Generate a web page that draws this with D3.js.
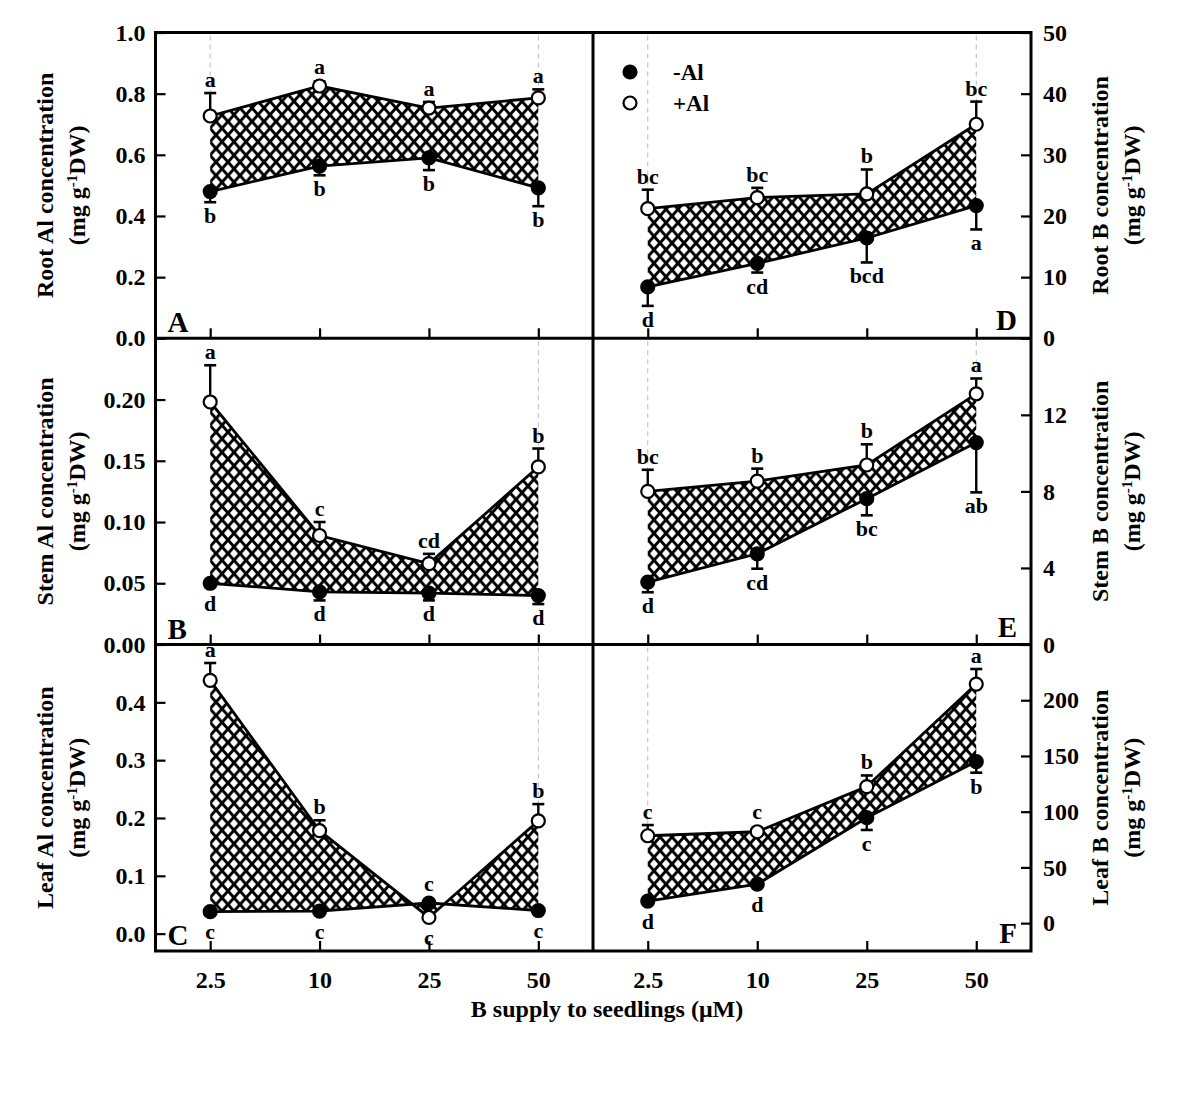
<!DOCTYPE html>
<html><head><meta charset="utf-8">
<script src="https://cdn.jsdelivr.net/npm/d3@7"></script>
<style>
body{margin:0;background:#fff}
text{font-family:"Liberation Serif","Times New Roman",serif;font-weight:bold;fill:#000}
</style>
</head><body>
<svg id="chart" width="1200" height="1100"></svg>
<script>
// ---------- data ----------
const doses = ["2.5", "10", "25", "50"];

const rootAlMinus = [0.480, 0.563, 0.590, 0.492];
const rootAlMinusErr = [0.035, 0.030, 0.040, 0.060];
const rootAlPlus = [0.727, 0.825, 0.753, 0.786];
const rootAlPlusErr = [0.075, 0.015, 0.020, 0.028];
const rootAlMinusLetters = ["b", "b", "b", "b"];
const rootAlPlusLetters = ["a", "a", "a", "a"];

const stemAlMinus = [0.050, 0.043, 0.042, 0.040];
const stemAlMinusErr = [0.003, 0.007, 0.006, 0.007];
const stemAlPlus = [0.198, 0.089, 0.066, 0.145];
const stemAlPlusErr = [0.030, 0.011, 0.008, 0.015];
const stemAlMinusLetters = ["d", "d", "d", "d"];
const stemAlPlusLetters = ["a", "c", "cd", "b"];

const leafAlMinus = [0.038, 0.039, 0.053, 0.040];
const leafAlMinusErr = [0.004, 0.004, 0, 0.004];
const leafAlPlus = [0.438, 0.178, 0.028, 0.195];
const leafAlPlusErr = [0.030, 0.018, 0, 0.029];
const leafAlMinusLetters = ["c", "c", "c", "c"];
const leafAlPlusLetters = ["a", "b", "c", "b"];

const rootBMinus = [8.4, 12.25, 16.4, 21.7];
const rootBMinusErr = [3.1, 1.5, 4.0, 3.9];
const rootBPlus = [21.2, 23.0, 23.6, 35.0];
const rootBPlusErr = [3.1, 1.6, 4.0, 3.7];
const rootBMinusLetters = ["d", "cd", "bcd", "a"];
const rootBPlusLetters = ["bc", "bc", "b", "bc"];

const stemBMinus = [3.26, 4.74, 7.62, 10.55];
const stemBMinusErr = [0.53, 0.78, 0.87, 2.6];
const stemBPlus = [8.0, 8.54, 9.38, 13.1];
const stemBPlusErr = [1.13, 0.65, 1.08, 0.8];
const stemBMinusLetters = ["d", "cd", "bc", "ab"];
const stemBPlusLetters = ["bc", "b", "b", "a"];

const leafBMinus = [19.8, 35.0, 94.6, 145];
const leafBMinusErr = [2, 2, 11, 10];
const leafBPlus = [78.4, 82.0, 122.5, 214.5];
const leafBPlusErr = [9.6, 2, 10, 13.5];
const leafBMinusLetters = ["d", "d", "c", "b"];
const leafBPlusLetters = ["c", "c", "b", "a"];

const rootAlTicks = [0, 0.2, 0.4, 0.6, 0.8, 1.0];
const stemAlTicks = [0, 0.05, 0.10, 0.15, 0.20];
const leafAlTicks = [0, 0.1, 0.2, 0.3, 0.4];
const rootBTicks = [0, 10, 20, 30, 40, 50];
const stemBTicks = [0, 4, 8, 12];
const leafBTicks = [0, 50, 100, 150, 200];

const seriesNames = ["-Al", "+Al"];
const xTitle = "B supply to seedlings (\u03BCM)";

// ---------- layout ----------
const svg = d3.select("#chart");
const L = 155.5, M = 593, R = 1031;
const rows = [[32.5, 338.3], [338.3, 644.5], [644.5, 951]];
const cols = [[L, M], [M, R]];

const panels = [
  {id:"A", col:0, row:0, minus:rootAlMinus, mErr:rootAlMinusErr, plus:rootAlPlus, pErr:rootAlPlusErr, mLet:rootAlMinusLetters, pLet:rootAlPlusLetters, domain:[0,1], ticks:rootAlTicks, fmt:".1f", title:"Root Al concentration", drops:[0,3]},
  {id:"B", col:0, row:1, minus:stemAlMinus, mErr:stemAlMinusErr, plus:stemAlPlus, pErr:stemAlPlusErr, mLet:stemAlMinusLetters, pLet:stemAlPlusLetters, domain:[0,0.25], ticks:stemAlTicks, fmt:".2f", title:"Stem Al concentration", drops:[3]},
  {id:"C", col:0, row:2, minus:leafAlMinus, mErr:leafAlMinusErr, plus:leafAlPlus, pErr:leafAlPlusErr, mLet:leafAlMinusLetters, pLet:leafAlPlusLetters, domain:[-0.03,0.5], ticks:leafAlTicks, fmt:".1f", title:"Leaf Al concentration", drops:[3]},
  {id:"D", col:1, row:0, minus:rootBMinus, mErr:rootBMinusErr, plus:rootBPlus, pErr:rootBPlusErr, mLet:rootBMinusLetters, pLet:rootBPlusLetters, domain:[0,50], ticks:rootBTicks, fmt:"d", title:"Root B concentration", drops:[0,3]},
  {id:"E", col:1, row:1, minus:stemBMinus, mErr:stemBMinusErr, plus:stemBPlus, pErr:stemBPlusErr, mLet:stemBMinusLetters, pLet:stemBPlusLetters, domain:[0,16], ticks:stemBTicks, fmt:"d", title:"Stem B concentration", drops:[0,3]},
  {id:"F", col:1, row:2, minus:leafBMinus, mErr:leafBMinusErr, plus:leafBPlus, pErr:leafBPlusErr, mLet:leafBMinusLetters, pLet:leafBPlusLetters, domain:[-25,250], ticks:leafBTicks, fmt:"d", title:"Leaf B concentration", drops:[0]}
];

// hatch pattern
const defs = svg.append("defs");
const pat = defs.append("pattern").attr("id","hatch").attr("patternUnits","userSpaceOnUse")
  .attr("width",12).attr("height",13.5);
pat.append("rect").attr("width",12).attr("height",13.5).attr("fill","#fff");
pat.append("path").attr("d","M-3,-3.375L15,16.875M15,-3.375L-3,16.875")
  .attr("stroke","#000").attr("stroke-width",3).attr("fill","none");

const r = 6.5, cap = 6;

panels.forEach(p => {
  const [x0, x1] = cols[p.col];
  const [y0, y1] = rows[p.row];
  const x = d3.scalePoint().domain(doses).range([x0, x1]).padding(0.5);
  const y = d3.scaleLinear().domain(p.domain).range([y1, y0]);
  const g = svg.append("g");

  // axes
  const yAxis = (p.col === 0 ? d3.axisLeft(y) : d3.axisRight(y))
    .tickValues(p.ticks).tickFormat(d3.format(p.fmt)).tickSizeInner(-10).tickSizeOuter(0).tickPadding(p.col===0?10:12);
  const ya = g.append("g").attr("transform", `translate(${p.col===0?x0:x1},0)`).call(yAxis);
  ya.select(".domain").remove();
  ya.selectAll("line").attr("stroke","#000").attr("stroke-width",2.2);
  ya.selectAll("text").attr("font-size",24).attr("font-family",null);

  const xAxis = d3.axisBottom(x).tickSizeInner(-10).tickSizeOuter(0).tickPadding(20)
    .tickFormat(p.row === 2 ? (d => d) : () => "");
  const xa = g.append("g").attr("transform", `translate(0,${y1})`).call(xAxis);
  xa.select(".domain").remove();
  xa.selectAll("line").attr("stroke","#000").attr("stroke-width",2.2);
  xa.selectAll("text").attr("font-size",24).attr("font-family",null);

  // faint dashed drop lines
  p.drops.forEach(i => {
    const top = Math.min(y(p.plus[i]), y(p.minus[i]));
    g.append("line").attr("x1", x(doses[i])).attr("x2", x(doses[i]))
      .attr("y1", y0 + 3).attr("y2", top)
      .attr("stroke","#bbb").attr("stroke-width",1).attr("stroke-dasharray","5,4");
  });

  // hatched area
  const idx = d3.range(doses.length);
  const area = d3.area().x(i => x(doses[i])).y0(i => y(p.minus[i])).y1(i => y(p.plus[i]));
  g.append("path").datum(idx).attr("d", area).attr("fill","url(#hatch)");
  const line = arr => d3.line().x(i => x(doses[i])).y(i => y(arr[i]));
  [p.minus, p.plus].forEach(arr => {
    g.append("path").datum(idx).attr("d", line(arr)).attr("fill","none")
      .attr("stroke","#000").attr("stroke-width",2.8);
  });

  // error bars, points, letters
  idx.forEach(i => {
    const cx = x(doses[i]);
    const plusUp = p.plus[i] >= p.minus[i];
    const series = [
      {v:p.plus[i], e:p.pErr[i], up:plusUp, fill:"#fff", lab:p.pLet[i]},
      {v:p.minus[i], e:p.mErr[i], up:!plusUp, fill:"#000", lab:p.mLet[i]}
    ];
    series.forEach(s => {
      const cy = y(s.v);
      const ey = y(s.up ? s.v + s.e : s.v - s.e);
      if (s.e > 0) {
        g.append("line").attr("x1",cx).attr("x2",cx).attr("y1",cy).attr("y2",ey)
          .attr("stroke","#000").attr("stroke-width",2.4);
        g.append("line").attr("x1",cx-cap).attr("x2",cx+cap).attr("y1",ey).attr("y2",ey)
          .attr("stroke","#000").attr("stroke-width",2.6);
      }
    });
    series.forEach(s => {
      g.append("circle").attr("cx",cx).attr("cy",y(s.v)).attr("r",r)
        .attr("fill",s.fill).attr("stroke","#000").attr("stroke-width",2.2);
    });
    series.forEach(s => {
      const cy = y(s.v);
      const ey = y(s.up ? s.v + s.e : s.v - s.e);
      const by = s.up ? Math.min(ey, cy - r) - 6 : Math.max(ey, cy + r) + 21;
      g.append("text").attr("x",cx).attr("y",by).attr("text-anchor","middle")
        .attr("font-size",22).text(s.lab);
    });
  });

  // panel letter
  if (p.col === 0) {
    g.append("text").attr("x", x0 + 12).attr("y", y1 - 6).attr("font-size",29).text(p.id);
  } else {
    g.append("text").attr("x", x1 - 14).attr("y", y1 - 8).attr("text-anchor","end").attr("font-size",29).text(p.id);
  }

  // y title
  const cyT = (y0 + y1) / 2;
  const tx1 = p.col === 0 ? 53 : 1108;
  const tx2 = p.col === 0 ? 85 : 1140;
  g.append("text").attr("transform",`translate(${tx1},${cyT}) rotate(-90)`).attr("text-anchor","middle")
    .attr("font-size",24).text(p.title);
  const t2 = g.append("text").attr("transform",`translate(${tx2},${cyT}) rotate(-90)`).attr("text-anchor","middle")
    .attr("font-size",24);
  t2.append("tspan").text("(mg g");
  t2.append("tspan").attr("dy",-8).attr("font-size",15).text("-1");
  t2.append("tspan").attr("dy",8).text("DW)");
});

// frame & dividers
const fr = svg.append("g").attr("stroke","#000").attr("stroke-width",3).attr("fill","none");
fr.append("rect").attr("x",L).attr("y",rows[0][0]).attr("width",R-L).attr("height",rows[2][1]-rows[0][0]);
fr.append("line").attr("x1",M).attr("x2",M).attr("y1",rows[0][0]).attr("y2",rows[2][1]);
fr.append("line").attr("x1",L).attr("x2",R).attr("y1",rows[1][0]).attr("y2",rows[1][0]);
fr.append("line").attr("x1",L).attr("x2",R).attr("y1",rows[2][0]).attr("y2",rows[2][0]);

// legend
const leg = svg.append("g");
[{name:seriesNames[0], fill:"#000", cy:72}, {name:seriesNames[1], fill:"#fff", cy:103}].forEach(d => {
  leg.append("circle").attr("cx",630).attr("cy",d.cy).attr("r",r).attr("fill",d.fill)
    .attr("stroke","#000").attr("stroke-width",2.2);
  leg.append("text").attr("x",673).attr("y",d.cy+8).attr("font-size",23).text(d.name);
});

// x title
svg.append("text").attr("x",607).attr("y",1017).attr("text-anchor","middle").attr("font-size",24).text(xTitle);
</script>
</body></html>
